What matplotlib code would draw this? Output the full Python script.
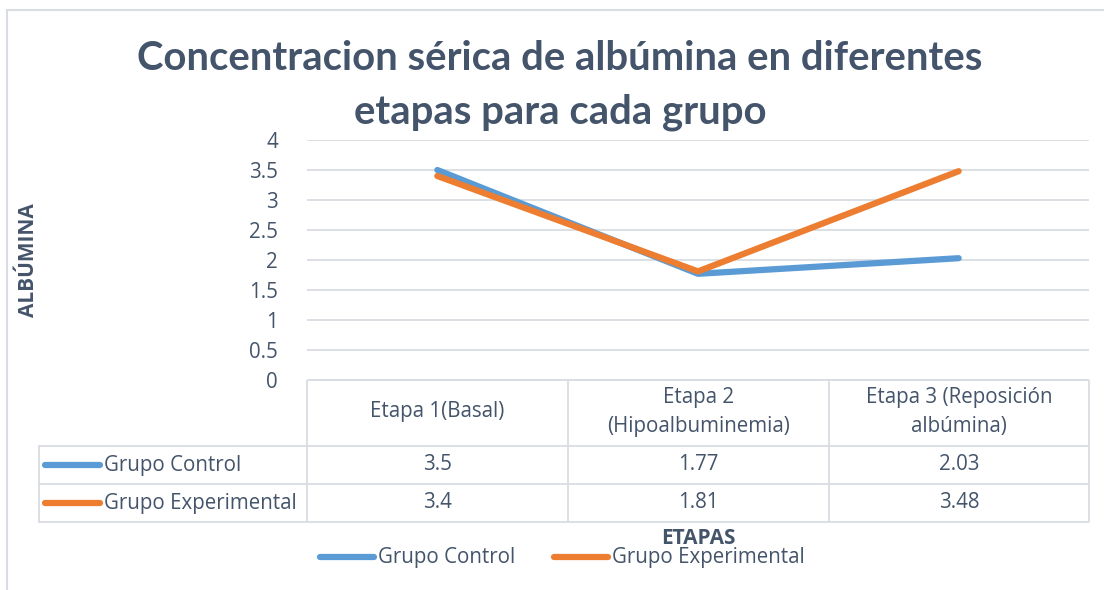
import matplotlib
matplotlib.use("Agg")
import matplotlib.pyplot as plt
from matplotlib.lines import Line2D

# ---- data ----
categories = ["Etapa 1(Basal)", "Etapa 2\n(Hipoalbuminemia)", "Etapa 3 (Reposición\nalbúmina)"]
series_names = ["Grupo Control", "Grupo Experimental"]
control = [3.5, 1.77, 2.03]
experimental = [3.4, 1.81, 3.48]
yticks = [0, 0.5, 1, 1.5, 2, 2.5, 3, 3.5, 4]
ytick_labels = ["0", "0.5", "1", "1.5", "2", "2.5", "3", "3.5", "4"]
title = "Concentracion sérica de albúmina en diferentes\netapas para cada grupo"
xlabel = "ETAPAS"
ylabel = "ALBÚMINA"

colors = ["#5B9BD5", "#ED7D31"]
txt = "#44546A"
grid_c = "#D9DDE3"
W, H = 1104, 590
FONT = ["Open Sans", "DejaVu Sans"]
TFONT = ["Lato", "DejaVu Sans"]
FS = 14.8

fig = plt.figure(figsize=(W / 100, H / 100), dpi=100)

def fx(x):
    return x / W

def fy(y):
    return 1 - y / H

def hline(x0, x1, y, lw=1.3, c=grid_c):
    fig.add_artist(Line2D([fx(x0), fx(x1)], [fy(y), fy(y)], transform=fig.transFigure,
                          color=c, lw=lw, solid_capstyle="butt"))

def vline(x, y0, y1, lw=1.3, c=grid_c):
    fig.add_artist(Line2D([fx(x), fx(x)], [fy(y0), fy(y1)], transform=fig.transFigure,
                          color=c, lw=lw, solid_capstyle="butt"))

# outer chart border
hline(6, W, 9.5, lw=1.5)
vline(6.5, 9, H, lw=1.5)

# plot area
L, R, T, B = 307, 1089, 140, 380
ax = fig.add_axes([fx(L), fy(B), fx(R) - fx(L), (B - T) / H])
x = list(range(len(categories)))
for vals, col, name in zip([control, experimental], colors, series_names):
    ax.plot(x, vals, color=col, lw=4.5, solid_capstyle="round", label=name)
ax.set_xlim(-0.5, len(categories) - 0.5)
ax.set_ylim(0, 4)
ax.set_yticks(yticks)
ax.set_yticklabels(ytick_labels, fontsize=FS, color=txt, family=FONT)
ax.yaxis.grid(True, color=grid_c, lw=1.3)
ax.set_axisbelow(True)
ax.set_xticks([])
ax.tick_params(axis="y", length=0, pad=21)
for s in ax.spines.values():
    s.set_visible(False)

# data table
cols = [307, 568, 829, 1089]
rows = [380, 446, 484, 522]
hline(307, 1089, rows[0])
for ry in rows[1:]:
    hline(38, 1089, ry)
for cx in cols:
    vline(cx, rows[0], rows[3])
vline(38.5, rows[1], rows[3])

for i, cat in enumerate(categories):
    cx = (cols[i] + cols[i + 1]) / 2
    fig.text(fx(cx), fy((rows[0] + rows[1]) / 2 - 1), cat, ha="center", va="center",
             fontsize=FS, color=txt, family=FONT, linespacing=1.5)

for r, (vals, col, name) in enumerate(zip([control, experimental], colors, series_names)):
    cy = (rows[r + 1] + rows[r + 2]) / 2
    fig.add_artist(Line2D([fx(45), fx(100)], [fy(cy), fy(cy)], transform=fig.transFigure,
                          color=col, lw=4.5, solid_capstyle="round"))
    fig.text(fx(104), fy(cy), name, ha="left", va="center", fontsize=FS, color=txt, family=FONT)
    for i, v in enumerate(vals):
        cx = (cols[i] + cols[i + 1]) / 2
        fig.text(fx(cx), fy(cy), f"{v:g}", ha="center", va="center", fontsize=FS,
                 color=txt, family=FONT)

# title and axis labels
fig.text(fx(560), fy(85), title, ha="center", va="center", fontsize=28.8, fontweight="bold",
         color=txt, family=TFONT, linespacing=1.55)
fig.text(fx(28), fy(260), ylabel, ha="center", va="center", rotation=90, fontsize=15,
         fontweight="bold", color=txt, family=FONT)
fig.text(fx(698), fy(538), xlabel, ha="center", va="center", fontsize=15,
         fontweight="bold", color=txt, family=FONT)

# bottom legend
leg_items = [(320, 374, 378), (554, 608, 612)]
for (x0, x1, tx), col, name in zip(leg_items, colors, series_names):
    fig.add_artist(Line2D([fx(x0), fx(x1)], [fy(557), fy(557)], transform=fig.transFigure,
                          color=col, lw=4.5, solid_capstyle="round"))
    fig.text(fx(tx), fy(557), name, ha="left", va="center", fontsize=FS, color=txt, family=FONT)

fig.savefig("out.png", dpi=100, facecolor="white")
